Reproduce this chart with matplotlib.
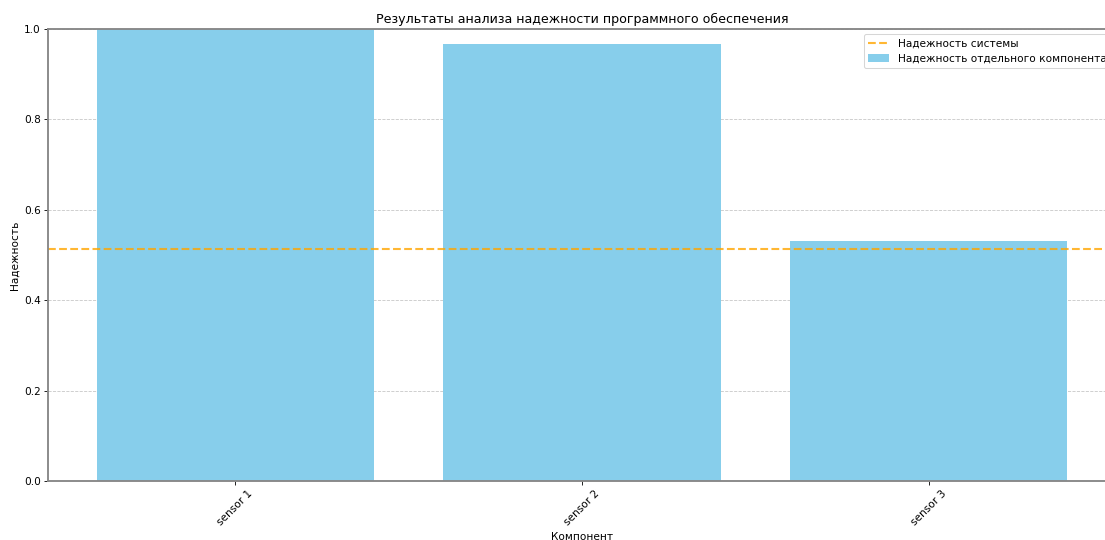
import numpy as np
import matplotlib.pyplot as plt

components = ["sensor 1", "sensor 2", "sensor 3"]
reliability = [1.0, 0.967, 0.53]
system_reliability = float(np.prod(reliability))

DPI = 75.6
fig = plt.figure(figsize=(1105 / DPI, 540 / DPI), dpi=DPI)
# axes run a bit past the right edge of the canvas
ax = fig.add_axes([48 / 1105, 59 / 540, 1068 / 1105, 452 / 540])

x = np.arange(len(components))
ax.bar(x, reliability, width=0.8, color="skyblue",
       label="Надежность отдельного компонента")
ax.axhline(system_reliability, color="orange", linestyle="--", linewidth=2,
           alpha=0.8, label="Надежность системы")

ax.set_xticks(x)
ax.set_xticklabels(components, rotation=45)
ax.set_ylim(0, 1.0)
ax.set_xlabel("Компонент")
ax.set_ylabel("Надежность")
ax.set_title("Результаты анализа надежности программного обеспечения")
ax.grid(axis="y", linestyle="--", alpha=0.7)
ax.set_axisbelow(True)
for s in ax.spines.values():
    s.set_color("#888888")
    s.set_linewidth(1.8)
ax.legend(loc="upper right")

fig.savefig("out.png", dpi=DPI)
